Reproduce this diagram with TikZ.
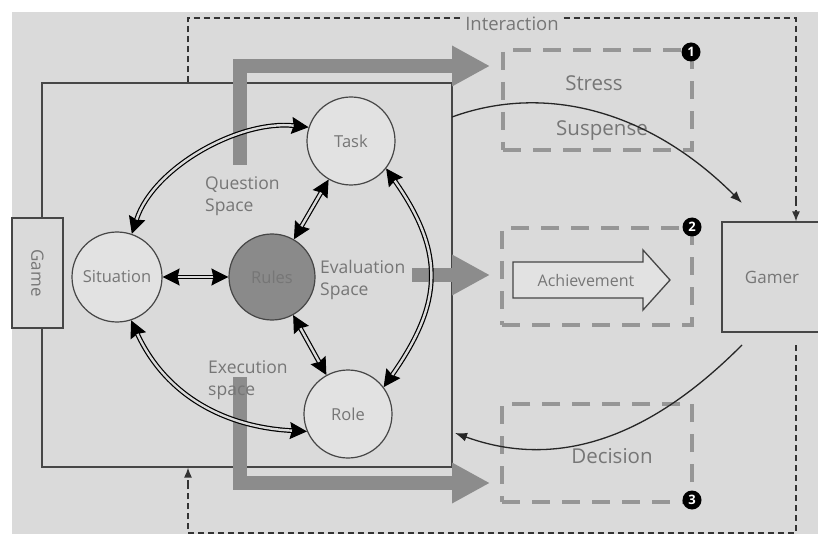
\documentclass[tikz,border=0pt]{standalone}
\usepackage{fontspec}
\setmainfont{Open Sans}
\usetikzlibrary{arrows.meta}
\definecolor{bg}{RGB}{218,218,218}
\definecolor{txtgray}{RGB}{118,118,118}
\definecolor{linegray}{RGB}{70,70,70}
\definecolor{arrgray}{RGB}{140,140,140}
\definecolor{boxgray}{RGB}{150,150,150}
\definecolor{circfill}{RGB}{226,226,226}
\definecolor{rulefill}{RGB}{138,138,138}
\definecolor{achfill}{RGB}{226,226,226}
\tikzset{
  lbl/.style={text=txtgray, font=\fontsize{17.5}{22}\selectfont, align=left, inner sep=0pt},
  circ/.style={circle, draw=linegray, line width=1.2pt, fill=circfill, minimum size=88pt, inner sep=0pt, text=txtgray, font=\fontsize{16.5}{20}\selectfont},
  dbltip/.style={draw=black, line width=1pt, {Stealth[length=17pt,width=17pt,inset=2pt]}-{Stealth[length=17pt,width=17pt,inset=2pt]}},
  dblline/.style={draw=black, line width=1.2pt, double=bg, double distance=2.4pt, shorten <=15pt, shorten >=15pt},
  fat/.style={draw=arrgray, line width=14pt, line join=miter, -{Triangle[length=38pt,width=38pt]}},
  dbox/.style={draw=boxgray, line width=4.5pt, dash pattern=on 18pt off 12pt, inner sep=0pt},
  num/.style={circle, fill=black, text=white, minimum size=19pt, inner sep=0pt, font=\bfseries\fontsize{13}{13}\selectfont},
  odash/.style={draw=black!80, line width=1.3pt, dash pattern=on 6pt off 4pt},
  curv/.style={draw=black!85, line width=1.3pt, -{Latex[length=12pt,width=9pt]}},
  plainbox/.style={draw=linegray, line width=1.2pt, fill=bg, inner sep=0pt, text=txtgray, font=\fontsize{17}{20}\selectfont},
  boxlbl/.style={text=txtgray, inner sep=0pt, font=\fontsize{20.5}{24}\selectfont}
}
\begin{document}
\begin{tikzpicture}[x=1pt,y=1pt]
\clip (0,0) rectangle (818,-534);
\fill[white] (0,0) rectangle (818,-534);
\fill[bg] (12,-12) rectangle (818,-534);

% coordinates for the outer dashed loop
\coordinate (dl) at (188,-18);
\coordinate (dr) at (796,-18);
\coordinate (dbl) at (188,-533);
\coordinate (dbr) at (796,-533);
\coordinate (drs) at (796,-345);

% inner space box
\node[draw=linegray, line width=1.2pt, minimum width=410pt, minimum height=384pt, inner sep=0pt] (space) at (247,-275) {};

% game and gamer
\node[plainbox, rotate=-90, minimum width=110pt, minimum height=51pt] (game) at (37.5,-273) {Game};
\node[plainbox, minimum width=100pt, minimum height=110pt] (gamer) at (772,-277) {Gamer};

% outer dashed loop
\draw[odash] (space.north -| dl) -- (dl) -- (dr) -- (drs |- 0,-203);
\draw[odash, -{Latex[length=10pt,width=8pt]}] (dr |- 0,-200) -- (gamer.north -| dr);
\draw[odash] (drs) -- (dbr) -- (dbl) -- (188,-485);
\draw[odash, -{Latex[length=10pt,width=8pt]}] (188,-486) -- (space.south -| dbl);
\node[lbl, fill=bg, inner xsep=2pt, font=\fontsize{18.5}{22}\selectfont] (inter) at (512,-24) {Interaction};

% fat gray arrows
\coordinate (q0) at (240,-165);
\coordinate (q1) at (240,-66);
\coordinate (q2) at (490,-66);
\coordinate (e0) at (240,-377);
\coordinate (e1) at (240,-483);
\coordinate (e2) at (490,-483);
\coordinate (v0) at (412,-275);
\coordinate (v1) at (490,-275);
\draw[fat] (q0) -- (q1) -- (q2);
\draw[fat] (e0) -- (e1) -- (e2);
\draw[fat] (v0) -- (v1);

% dashed boxes
\node[dbox, minimum width=189pt, minimum height=100pt] (b1) at (597.5,-100) {};
\node[dbox, minimum width=190pt, minimum height=97pt] (b2) at (597,-276.5) {};
\node[dbox, minimum width=190pt, minimum height=98pt] (b3) at (597,-453) {};
\node[boxlbl] (stress) at (594,-83) {Stress};
\node[boxlbl] (susp) at (602,-131) {Suspense};
\node[boxlbl] (dec) at (612,-456) {Decision};

% achievement arrow
\draw[draw=linegray, line width=1.3pt, fill=achfill] (513,-262) -- (643,-262) -- (643,-250) -- (670,-280) -- (643,-310) -- (643,-298) -- (513,-298) -- cycle;
\node[text=txtgray, inner sep=0pt, font=\fontsize{16}{20}\selectfont] (ach) at (586,-281) {Achievement};

% circles
\node[circ] (task) at (351,-141) {Task};
\node[circ, minimum size=90pt] (sit) at (117,-277) {Situation};
\node[circ, fill=rulefill, minimum size=86pt] (rules) at (272,-277) {Rules};
\node[circ] (role) at (348,-414) {Role};

% double arrows: tips, then the double line over them
\draw[dbltip] (sit.71) .. controls +(72:70) and +(174:70) .. (task.162);
\draw[dblline] (sit.71) .. controls +(72:70) and +(174:70) .. (task.162);
\draw[dbltip] (sit.-72) .. controls +(-65:85) and +(177:80) .. (role.203);
\draw[dblline] (sit.-72) .. controls +(-65:85) and +(177:80) .. (role.203);
\draw[dbltip] (task.-38) .. controls +(-55:103) and +(55:103) .. (role.37);
\draw[dblline] (task.-38) .. controls +(-55:103) and +(55:103) .. (role.37);
\draw[dbltip] (sit) -- (rules);
\draw[dblline] (sit) -- (rules);
\draw[dbltip] (rules) -- (task);
\draw[dblline] (rules) -- (task);
\draw[dbltip] (rules) -- (role);
\draw[dblline] (rules) -- (role);

% space labels
\node[lbl, anchor=west] (qs) at (205,-196) {Question\\Space};
\node[lbl, anchor=west] (es) at (320,-280) {Evaluation\\Space};
\node[lbl, anchor=west] (xs) at (208,-380) {Execution\\space};

% curves to and from the gamer
\coordinate (a1) at (452,-117);
\coordinate (a2) at (742,-203);
\coordinate (c1) at (742,-345);
\coordinate (c2) at (455,-433);
\draw[curv] (a1) .. controls +(20:100) and +(135:130) .. (a2);
\draw[curv] (c1) .. controls +(225:80) and +(-20:140) .. (c2);

% numbers
\node[num] (n1) at (691,-52) {1};
\node[num] (n2) at (692,-227) {2};
\node[num] (n3) at (692,-500) {3};
\end{tikzpicture}
\end{document}
